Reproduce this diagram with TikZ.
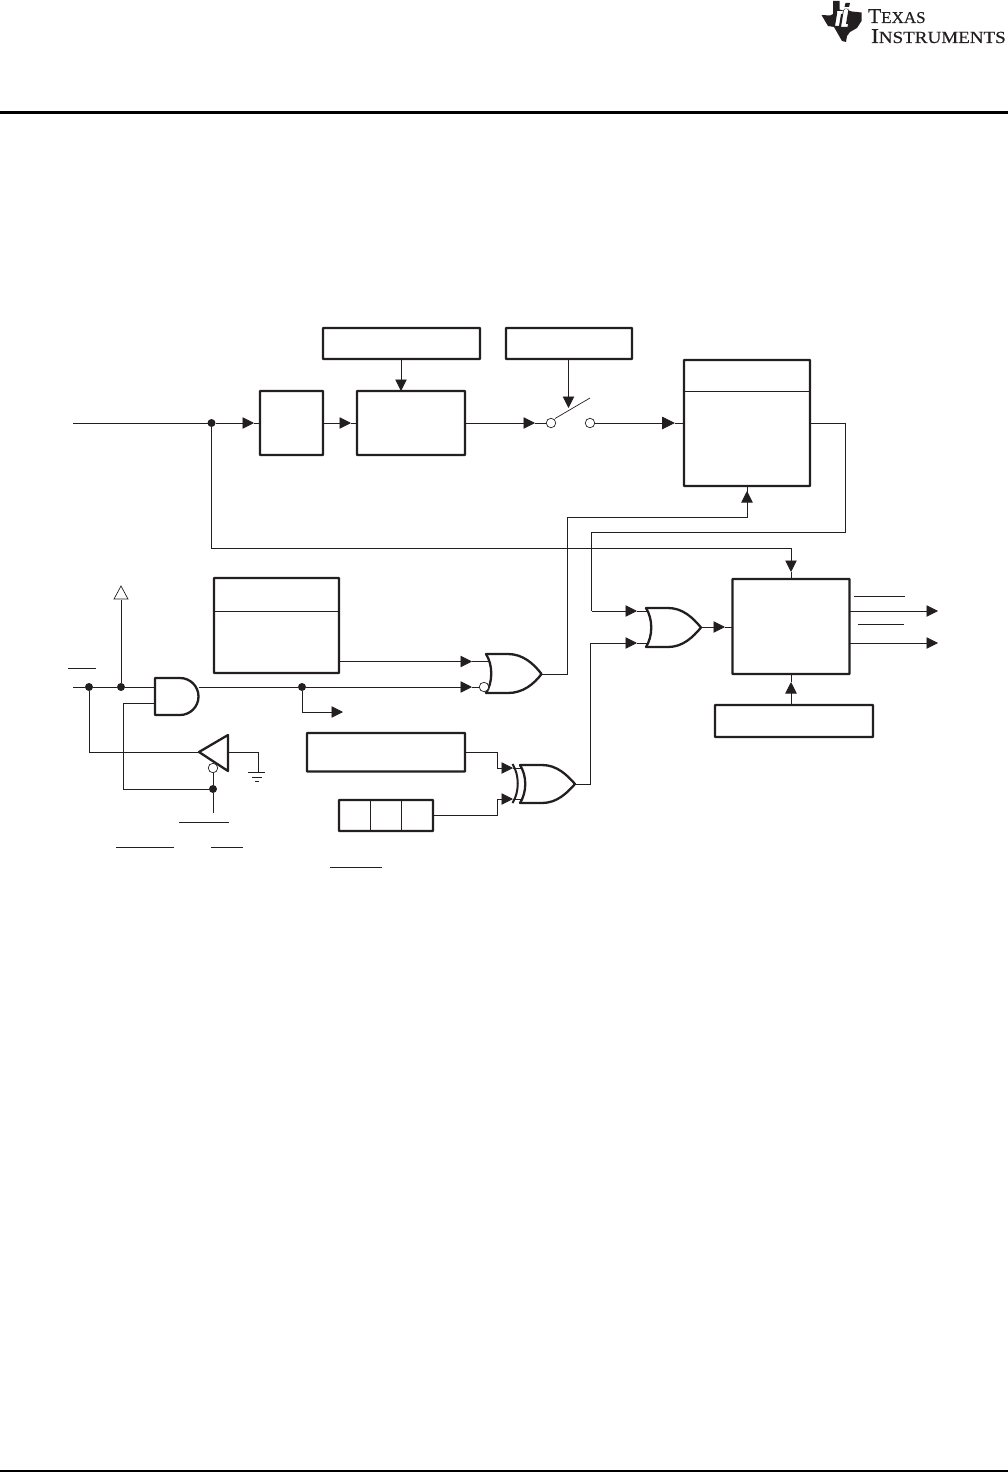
\documentclass[tikz,border=0pt]{standalone}
\usepackage{fontspec}
\setmainfont{Liberation Serif}
\newfontfamily\logofont[FakeBold=0.35]{Liberation Serif}
\usetikzlibrary{arrows.meta}
\definecolor{ink}{HTML}{231F20}
\tikzset{
  boxa/.style={draw=ink,line width=2.4pt,outer sep=0pt,inner sep=0pt,anchor=north west,fill=white,rounded corners=0.5pt},
  wire/.style={draw=ink,line width=0.9pt},
  tipped/.style={wire,-{Triangle[length=11.5pt,width=11.5pt,fill=ink]}},
  bigtipped/.style={wire,-{Triangle[length=13pt,width=12.5pt,fill=ink]}},
  gatepath/.style={draw=ink,line width=2.3pt,line join=round,fill=white},
  dotnode/.style={circle,fill=ink,draw=none,minimum size=8pt,inner sep=0pt,outer sep=0pt},
  bubble/.style={circle,fill=white,draw=ink,line width=0.7pt,minimum size=9.5pt,inner sep=0pt,outer sep=0pt},
  barline/.style={draw=ink,line width=0.9pt},
  logotext/.style={inner sep=0pt,outer sep=0pt,anchor=base west,text=ink},
}
\newcommand{\mkbox}[6]{\node[boxa,minimum width=#4pt,minimum height=#5pt] (#1) at (#2,#3) {};}
\begin{document}
\begin{tikzpicture}[x=1pt,y=-1pt]
\useasboundingbox (0,0) rectangle (1008,1472);
% page rules
\coordinate (ruleAl) at (0,112); \coordinate (ruleAr) at (1008,112);
\coordinate (ruleBl) at (0,1470.5); \coordinate (ruleBr) at (1008,1470.5);
\draw[draw=black,line width=3pt] (ruleAl) -- (ruleAr);
\draw[draw=black,line width=2pt] (ruleBl) -- (ruleBr);
% logo
\fill[ink,even odd rule] (833,1) -- (839.5,1) -- (839.5,9.5) -- (843,10.5) -- (846,8.5) -- (850,11) -- (852,11.5) -- (861.5,12.5) -- (861.5,21) -- (857,28) -- (850,32) -- (847,36) -- (846,42) -- (842,41) -- (838,34) -- (834,27) -- (828,26) -- (825,21) -- (821.5,15) -- (830,15.5) -- (833,14) -- cycle
 (845.5,3) -- (850,3) -- (849,7) -- (844.5,7) -- cycle
 (844,9) -- (848.5,9) -- (846,24) -- (848,24) -- (847.5,27) -- (841,27) -- cycle
 (837,11) -- (843,11) -- (842.5,14) -- (841,14) -- (839,26) -- (835,26) -- (837,14) -- cycle;
\node[logotext] (texas) at (868,23) {\scalebox{1.03}[1]{\logofont\fontsize{21}{21}\selectfont T\fontsize{16.5}{16.5}\selectfont EXAS}};
\node[logotext] (instr) at (871,43) {\scalebox{1.12}[1]{\logofont\fontsize{21}{21}\selectfont I\fontsize{17}{17}\selectfont NSTRUMENTS}};
% boxes
\mkbox{a}{323}{328}{157}{31}{}
\mkbox{b}{506}{328}{126}{31}{}
\mkbox{c}{260}{391}{63}{64}{}
\mkbox{d}{357}{391}{108}{64}{}
\mkbox{e}{684}{360}{126}{126}{}
\mkbox{f}{214}{578}{125}{95}{}
\mkbox{g}{732.5}{579}{117}{95}{}
\mkbox{h}{715}{705}{158}{32}{}
\mkbox{i}{307}{733}{158}{38.5}{}
\mkbox{j}{339}{800}{94}{31}{}
\draw[wire] (e.west |- 0,391.5) -- (e.east |- 0,391.5);
\draw[wire] (f.west |- 0,611) -- (f.east |- 0,611);
\draw[wire] (370.5,800) -- (370.5,831);
\draw[wire] (401.5,800) -- (401.5,831);
% gates
\coordinate (org1tl) at (486,654); \coordinate (org1bl) at (486,693); \coordinate (org1tip) at (541.5,674);
\path[gatepath] (org1tl) -- (508,654) .. controls (523,654) and (534,664) .. (org1tip) .. controls (534,684) and (523,693) .. (508,693) -- (org1bl) .. controls (493,682) and (493,665) .. cycle;
\coordinate (org2tl) at (646,608); \coordinate (org2bl) at (646,647); \coordinate (org2tip) at (701,627.5);
\path[gatepath] (org2tl) -- (668,608) .. controls (683,608) and (693,618) .. (org2tip) .. controls (693,637) and (683,647) .. (668,647) -- (org2bl) .. controls (653,636) and (653,619) .. cycle;
\coordinate (xgtl) at (520,765); \coordinate (xgbl) at (520,803); \coordinate (xgtip) at (575,784);
\path[gatepath] (xgtl) -- (542,765) .. controls (557,765) and (567,775) .. (xgtip) .. controls (567,793) and (557,803) .. (542,803) -- (xgbl) .. controls (527,792) and (527,776) .. cycle;
\draw[draw=ink,line width=2pt] (512.5,764) .. controls (519.5,775) and (519.5,792) .. (512.5,803);
\coordinate (angtl) at (155,678); \coordinate (angbl) at (155,715);
\path[gatepath] (angtl) -- (180,678) arc[start angle=-90,end angle=90,radius=18.5] -- (angbl) -- cycle;
\coordinate (angtop) at (155,687); \coordinate (angbot) at (155,703); \coordinate (angout) at (198.5,687);
\coordinate (buftip) at (199,752); \coordinate (bufb) at (228,752);
\path[gatepath] (buftip) -- (228,735) -- (228,771) -- cycle;
% dots and bubbles
\node[dotnode] (d1) at (211.5,423) {};
\node[dotnode] (d2) at (89,687) {};
\node[dotnode] (d3) at (121,687) {};
\node[dotnode] (d4) at (302,687) {};
\node[dotnode] (d5) at (213,789) {};
\node[bubble] (sw1) at (551,423) {};
\node[bubble] (sw2) at (590,423) {};
\node[bubble] (bn) at (213,768) {};
\coordinate (inL) at (73,423);
\coordinate (tc) at (254,423);
\coordinate (td) at (351,423);
\coordinate (tsw) at (535,423);
\coordinate (te) at (675,423);
\draw[wire] (inL) -- (d1);
\draw[tipped] (d1) -- (tc); \draw[wire] (tc) -- (c.west |- tc);
\draw[tipped] (c.east |- td) -- (td); \draw[wire] (td) -- (d.west |- td);
\draw[tipped] (d.east |- tsw) -- (tsw); \draw[wire] (tsw) -- (sw1);
\draw[bigtipped] (sw2) -- (te); \draw[wire] (te) -- (e.west |- te);
\coordinate (armA) at (555,418.5); \coordinate (armB) at (590,398);
\draw[draw=ink,line width=0.7pt] (armA) -- (armB);
\draw[tipped] (a.south -| 401,0) -- (401,391) ;
\coordinate (swctl) at (568.5,408);
\draw[tipped] (b.south -| swctl) -- (swctl);
% E input
\coordinate (noout) at (567.5,674);
\coordinate (eIn) at (747,517);
\coordinate (eTip) at (747,486);
\draw[wire] (org1tip) -- (noout) -- (567.5,517) -- (eIn) -- (eTip);
\draw[tipped] (eIn) -- (747,491);
% E output
\coordinate (orTa) at (637,611); \coordinate (orTb) at (637,643);
\draw[wire] (e.east |- 0,423) -- (845,423) -- (845,532) -- (591.5,532) -- (591.5,611);
\draw[tipped] (591.5,611) -- (orTa); \draw[wire] (orTa) -- (647,611);
\draw[tipped] (590,643) -- (orTb); \draw[wire] (orTb) -- (648,643);
\draw[wire] (xgtip) -- (590,784) -- (590,643);
\coordinate (orOutT) at (725,627);
\draw[tipped] (org2tip |- orOutT) -- (orOutT); \draw[wire] (orOutT) -- (g.west |- orOutT);
% upper bus into G
\coordinate (gTop) at (791,572);
\draw[wire] (d1) -- (211.5,548) -- (791,548);
\draw[tipped] (791,548) -- (gTop); \draw[wire] (gTop) -- (g.north -| gTop);
\coordinate (gBot) at (791,682);
\draw[tipped] (h.north -| gBot) -- (gBot); \draw[wire] (gBot) -- (g.south -| gBot);
% G outputs
\coordinate (oA) at (938,611); \coordinate (oB) at (938,643);
\draw[tipped] (g.east |- oA) -- (oA);
\draw[tipped] (g.east |- oB) -- (oB);
% F out
\coordinate (n1) at (472,661.5); \coordinate (n2) at (472,687);
\draw[tipped] (f.east |- n1) -- (n1); \draw[wire] (n1) -- (489,661.5);
\draw[wire] (angout) -- (d4);
\draw[tipped] (d4) -- (n2); \draw[wire] (n2) -- (480,687);
\node[bubble] (norb) at (484,687) {};
\coordinate (br) at (343,712);
\draw[wire] (d4) -- (302,712);
\draw[tipped] (302,712) -- (br);
% XOR inputs
\coordinate (x1) at (513,768); \coordinate (x2) at (513,799);
\draw[wire] (i.east |- 0,752) -- (497,752) -- (497,768);
\draw[tipped] (497,768) -- (x1); \draw[wire] (x1) -- (521,768);
\draw[wire] (j.east |- 0,815) -- (497,815) -- (497,799);
\draw[tipped] (497,799) -- (x2); \draw[wire] (x2) -- (521,799);
% left side
\coordinate (leftIn) at (73,687);
\draw[wire] (leftIn) -- (d2) -- (d3) -- (angtop);
\coordinate (vcc) at (121,586);
\draw[wire] (d3) -- (121,600);
\draw[draw=ink,line width=0.7pt,fill=white] (vcc) -- (128,599) -- (114,599) -- cycle;
\draw[wire] (d2) -- (89,752) -- (buftip);
\draw[wire] (bn) -- (d5);
\coordinate (bnEnd) at (213,813);
\draw[wire] (d5) -- (bnEnd);
\draw[wire] (d5) -- (123,789) -- (123,703) -- (angbot);
\draw[wire] (bufb) -- (258,752) -- (258,772);
\draw[barline] (248,772) -- (265,772);
\draw[barline] (252,777) -- (262,777);
\draw[barline] (255,781.5) -- (259,781.5);
% overbars
\draw[barline] (68,668.5) -- (96,668.5);
\draw[barline] (179,822.5) -- (229,822.5);
\draw[barline] (116,847) -- (174,847);
\draw[barline] (211,847) -- (243,847);
\draw[barline] (330,867.5) -- (382,867.5);
\draw[barline] (854,596.5) -- (905,596.5);
\draw[barline] (858,624.5) -- (904,624.5);
\end{tikzpicture}
\end{document}
